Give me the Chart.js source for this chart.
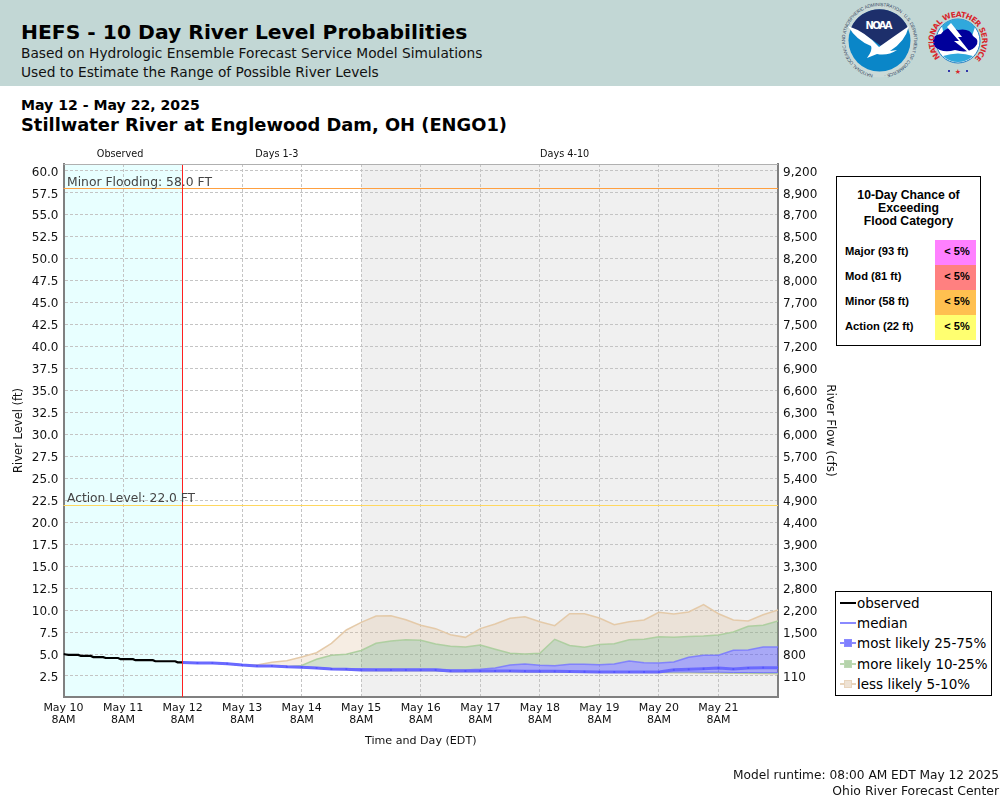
<!DOCTYPE html>
<html><head><meta charset="utf-8">
<style>
html,body{margin:0;padding:0;background:#fff}
#page{position:relative;width:1000px;height:800px;overflow:hidden;font-family:"DejaVu Sans",sans-serif;color:#000}
#band{position:absolute;left:0;top:0;width:1000px;height:86px;background:#c2d7d5}
.t{position:absolute;white-space:nowrap;line-height:1}
canvas{position:absolute;left:0;top:0}
#flood{position:absolute;left:836px;top:176px;width:143px;height:168px;border:1.5px solid #000;background:#fff;font-family:"Liberation Sans",Arial,sans-serif;font-weight:bold}
#flood .head{position:absolute;left:0;right:0;top:12px;text-align:center;font-size:12.2px;line-height:13px}
#flood .lab{position:absolute;left:8px;font-size:11.2px;line-height:23px}
#flood .cell{position:absolute;left:98px;width:41px;text-align:center;font-size:11px;line-height:23px;height:25.2px;text-indent:3px}
#legend{position:absolute;left:835px;top:591px;width:155px;height:103px;border:1.5px solid #000;background:#fff;font-size:13.5px}
#legend .row{position:absolute;left:3px;height:20px;line-height:20px;white-space:nowrap}
#legend svg{position:absolute;left:0;top:0}
#legend span{position:absolute;left:18px;top:0}
</style></head><body>
<div id="page">
<div id="band"></div>
<div class="t" style="left:21px;top:22px;font-size:20.3px;font-weight:bold">HEFS - 10 Day River Level Probabilities</div>
<div class="t" style="left:21px;top:47px;font-size:13.76px;color:#111">Based on Hydrologic Ensemble Forecast Service Model Simulations</div>
<div class="t" style="left:21px;top:66px;font-size:13.76px;color:#111">Used to Estimate the Range of Possible River Levels</div>
<div class="t" style="left:21px;top:98px;font-size:14.1px;font-weight:bold">May 12 - May 22, 2025</div>
<div class="t" style="left:21px;top:116px;font-size:17.87px;font-weight:bold">Stillwater River at Englewood Dam, OH (ENGO1)</div>

<svg style="position:absolute;left:835px;top:0" width="165" height="86" viewBox="835 0 165 86">
  <defs>
    <path id="noaaRing" d="M879.5 75 A34.5 34.5 0 1 1 879.6 75"/>
    <path id="nwsRing" d="M941 58 A24 24 0 1 1 975 58"/>
  </defs>
  <circle cx="879.5" cy="40.5" r="37" fill="#d4dedc" opacity=".5"/>
  <text font-size="4.6" fill="#33475f" font-family="Liberation Sans"><textPath href="#noaaRing" startOffset="3%" textLength="205">NATIONAL OCEANIC AND ATMOSPHERIC ADMINISTRATION · U.S. DEPARTMENT OF COMMERCE ·</textPath></text>
  <circle cx="879.5" cy="40.5" r="31" fill="#0a86c8"/>
  <path d="M851 28 A31 31 0 0 1 908 28 L906 30 Q890 40 881 46 Q868 36 851 28Z" fill="#1d2f6b"/>
  <path d="M848 26 Q866 32 879 47 Q893 37 909 26 Q905 42 890 51 L897 50 Q888 56 877 54 L867 58 Q873 50 871 46 Q856 40 848 26Z" fill="#fff"/>
  <text x="879" y="29" font-size="10" font-weight="bold" fill="#fff" text-anchor="middle" font-family="DejaVu Sans" textLength="27">NOAA</text>
  <circle cx="958" cy="41" r="22" fill="#fff" stroke="#1f7fc4" stroke-width="1"/>
  <path d="M942 26 A22 22 0 0 1 975 27 L972 36 L944 36Z" fill="#30a8dc"/>
  <path d="M934 46 Q930 35 941 34 Q947 25 958 30 Q970 28 973 36 Q981 41 975 47 Q968 54 955 50 Q942 54 934 46Z" fill="#00009b"/>
  <path d="M951 23 L962 37 L958 37 L973 56 L954 41 L959 41 L947 27Z" fill="#fff"/>
  <path d="M943 56 A22 22 0 0 0 973 56 Q958 51 943 56Z" fill="#30a8dc"/>
  <text font-size="7.6" font-weight="bold" fill="#d8262c" font-family="DejaVu Sans"><textPath href="#nwsRing" startOffset="1%" textLength="112">NATIONAL WEATHER SERVICE</textPath></text>
  <text x="958" y="73.5" font-size="7" fill="#d8262c" text-anchor="middle">★</text>
  <circle cx="949" cy="71" r="1" fill="#00009b"/><circle cx="967" cy="71" r="1" fill="#00009b"/>
</svg>

<canvas id="c" width="1000" height="800"></canvas>

<div id="flood">
  <div class="head">10-Day Chance of<br>Exceeding<br>Flood Category</div>
  <div id="floodRows"></div>
</div>

<div id="legend"></div>

<div class="t" style="right:1px;top:769px;font-size:12.2px;color:#111">Model runtime: 08:00 AM EDT May 12 2025</div>
<div class="t" style="right:1px;top:785px;font-size:12.4px;color:#111">Ohio River Forecast Center</div>
</div>

<script src="https://cdn.jsdelivr.net/npm/chart.js@4/dist/chart.umd.js"></script>
<script>
const stageTicks=[2.5,5,7.5,10,12.5,15,17.5,20,22.5,25,27.5,30,32.5,35,37.5,40,42.5,45,47.5,50,52.5,55,57.5,60];
const flowTicks=["110","800","1,500","2,200","2,800","3,300","3,900","4,400","4,900","5,400","5,700","6,000","6,300","6,600","6,900","7,200","7,500","7,700","8,000","8,200","8,500","8,700","8,900","9,200"];
const dayHours=[0,24,48,72,96,120,144,168,192,216,240,264];
const dayLabels=["May 10","May 11","May 12","May 13","May 14","May 15","May 16","May 17","May 18","May 19","May 20","May 21"];

const obsHours=[0,1,2,6,7,11,12,16,17,22,23,28,29,36,37,45,46,48];
const obsStage=[5.0,4.95,4.9,4.9,4.78,4.78,4.65,4.65,4.55,4.55,4.42,4.42,4.3,4.3,4.18,4.18,4.06,4.05];

const fcHours=[48,54,60,66,72,78,84,90,96,102,108,114,120,126,132,138,144,150,156,162,168,174,180,186,192,198,204,210,216,222,228,234,240,246,252,258,264,270,276,282,288];
const median=[4.05,3.98,3.97,3.9,3.75,3.65,3.65,3.55,3.5,3.42,3.3,3.28,3.18,3.18,3.18,3.18,3.18,3.18,3.07,3.07,3.07,3.07,3.07,3.05,3.03,3.03,3.0,2.98,2.96,2.96,2.96,2.96,2.96,3.2,3.26,3.33,3.41,3.3,3.42,3.45,3.45];
const p75=[4.05,3.98,3.97,3.9,3.75,3.65,3.65,3.55,3.52,3.45,3.33,3.3,3.33,3.3,3.3,3.3,3.3,3.3,3.18,3.18,3.26,3.41,3.75,3.87,3.72,3.67,3.83,3.83,3.79,3.87,4.21,4.01,3.98,4.09,4.63,4.86,4.86,5.43,5.46,5.8,5.8];
const p25=[4.05,3.98,3.97,3.9,3.75,3.65,3.65,3.55,3.48,3.4,3.27,3.25,3.14,3.13,3.13,3.13,3.13,3.12,3.03,3.03,3.03,3.03,3.03,3.0,2.98,2.98,2.96,2.94,2.92,2.92,2.92,2.92,2.92,2.95,2.95,2.93,2.93,2.9,2.9,2.88,2.88];
const p90=[4.05,3.98,3.97,3.9,3.75,3.65,3.65,3.55,3.7,4.4,4.86,4.97,5.4,6.22,6.48,6.63,6.56,6.14,5.88,5.8,6.03,5.54,5.08,5.0,5.08,6.68,5.97,5.77,6.1,6.18,6.63,6.68,6.97,6.9,7.0,7.05,7.17,7.51,8.16,8.27,8.76];
const p10=[4.05,3.98,3.97,3.9,3.75,3.65,3.65,3.55,3.47,3.38,3.25,3.23,3.12,3.1,3.1,3.1,3.1,3.09,3.0,3.0,3.0,3.0,3.0,2.98,2.96,2.95,2.93,2.92,2.9,2.9,2.9,2.9,2.88,2.87,2.87,2.85,2.84,2.82,2.8,2.78,2.77];
const p95=[4.05,3.98,3.97,3.9,3.75,3.75,4.06,4.24,4.66,5.15,6.22,7.74,8.61,9.33,9.37,8.91,8.27,7.89,7.2,6.9,7.89,8.42,9.07,9.25,8.68,8.23,9.6,9.59,9.1,8.34,8.68,8.88,9.75,9.56,9.79,10.62,9.59,8.88,8.76,9.48,10.01];
const p5=[4.05,3.98,3.97,3.9,3.75,3.65,3.65,3.55,3.46,3.37,3.24,3.22,3.1,3.08,3.08,3.08,3.08,3.07,2.97,2.97,2.97,2.97,2.97,2.95,2.94,2.93,2.91,2.9,2.88,2.88,2.88,2.88,2.86,2.85,2.85,2.83,2.81,2.79,2.76,2.74,2.72];

const floodRows=[["Major (93 ft)","< 5%","#ff80ff"],["Mod (81 ft)","< 5%","#ff8080"],["Minor (58 ft)","< 5%","#ffc050"],["Action (22 ft)","< 5%","#ffff70"]];
const legendRows=[["observed","#000000",null],["median","#8a8aff",null],["most likely 25-75%","#8a8aff","#7f7fff"],["more likely 10-25%","#bcd8b2","#b5d3ab"],["less likely 5-10%","#e8d4bc","#eee2d4"]];

const BLUE_FILL="rgba(70,70,255,0.42)",GREEN_FILL="rgba(130,170,120,0.36)",TAN_FILL="rgba(222,190,150,0.27)";
const BLUE_LINE="rgba(120,120,255,0.85)",GREEN_LINE="rgba(170,205,155,0.9)",TAN_LINE="rgba(228,200,165,0.95)";

function pts(ys){return ys.map((y,i)=>({x:fcHours[i],y}));}
function band(label,ys,target,fillCol,lineCol,w){return {label,data:pts(ys),fill:target===null?false:{target},backgroundColor:fillCol,borderColor:lineCol,borderWidth:w,pointRadius:0,tension:0};}

const datasets=[
 {label:"observed",data:obsHours.map((x,i)=>({x,y:obsStage[i]})),borderColor:"#000",borderWidth:2.2,pointRadius:0,tension:0,fill:false},
 {label:"median",data:pts(median),borderColor:"#6a6aff",borderWidth:3,pointRadius:1.3,pointStyle:"rect",pointBackgroundColor:"#5555ff",pointBorderWidth:0,tension:0,fill:false},
 band("most likely 25-75%",p75,3,BLUE_FILL,BLUE_LINE,1.5),
 band("p25",p25,null,"transparent",BLUE_LINE,1),
 band("more likely 10-25%",p90,2,GREEN_FILL,GREEN_LINE,1.5),
 band("p10",p10,3,GREEN_FILL,GREEN_LINE,1),
 band("less likely 5-10%",p95,4,TAN_FILL,TAN_LINE,1.5),
 band("p5",p5,5,TAN_FILL,TAN_LINE,1)
];

const regions=[{from:0,to:48,color:"#e8ffff"},{from:120,to:288,color:"#f0f0f0"}];
const headers=[{at:22.8,text:"Observed"},{at:86,text:"Days 1-3"},{at:202,text:"Days 4-10"}];
const levels=[{value:58,text:"Minor Flooding: 58.0 FT",color:"#ffa040",size:12.35},{value:22,text:"Action Level: 22.0 FT",color:"#ffd860",size:12.25}];
const nowHour=48;

const decor={id:"decor",
 beforeDraw(ch){const {ctx,chartArea:a,scales:{x}}=ch;ctx.save();
  regions.forEach(r=>{ctx.fillStyle=r.color;const l=x.getPixelForValue(r.from),R=x.getPixelForValue(r.to);ctx.fillRect(l,a.top,R-l,a.bottom-a.top);});ctx.restore();},
 afterDraw(ch){const {ctx,chartArea:a,scales:{x,y}}=ch;ctx.save();ctx.setLineDash([]);
  levels.forEach(v=>{const py=Math.floor(y.getPixelForValue(v.value)+.3)+.5;ctx.strokeStyle=v.color;ctx.lineWidth=1.2;ctx.beginPath();ctx.moveTo(a.left,py);ctx.lineTo(a.right,py);ctx.stroke();});
  const rx=Math.round(x.getPixelForValue(nowHour))-.5;ctx.strokeStyle="#ff2020";ctx.lineWidth=1;ctx.beginPath();ctx.moveTo(rx,a.top);ctx.lineTo(rx,a.bottom);ctx.stroke();
  ctx.fillStyle="#444";ctx.textBaseline="alphabetic";ctx.textAlign="left";
  levels.forEach(v=>{ctx.font=v.size+'px "DejaVu Sans"';ctx.fillText(v.text,a.left+3.5,y.getPixelForValue(v.value)-3);});
  ctx.font='9.7px "DejaVu Sans"';ctx.fillStyle="#111";ctx.textAlign="center";
  headers.forEach(h=>ctx.fillText(h.text,x.getPixelForValue(h.at),a.top-7));
  ctx.strokeStyle="#b0b0b0";ctx.lineWidth=1;ctx.beginPath();ctx.moveTo(a.left,a.top+.5);ctx.lineTo(a.right,a.top+.5);ctx.stroke();
  ctx.restore();}
};

const tickFont={family:"DejaVu Sans",size:12};
const gridStyle={color:"#c4c4c4",lineWidth:1,drawTicks:false};
new Chart(document.getElementById("c"),{type:"line",data:{datasets},plugins:[decor],options:{
 responsive:false,animation:false,parsing:true,
 layout:{padding:{left:0,right:163,top:164,bottom:52}},
 plugins:{legend:{display:false},tooltip:{enabled:false}},
 elements:{line:{borderCapStyle:"butt"}},
 scales:{
  x:{type:"linear",min:0,max:288,
     afterBuildTicks(s){s.ticks=dayHours.map(value=>({value}));},
     afterFit(s){s.height=51;},
     ticks:{autoSkip:false,maxRotation:0,padding:5,color:"#111",font:{family:"DejaVu Sans",size:11,lineHeight:1.1},callback:(v)=>{const i=dayHours.indexOf(v);return i<0?"":[dayLabels[i],"8AM"];}},
     grid:gridStyle,border:{color:"#808080",width:2,dash:[3,2]},
     title:{display:true,text:"Time and Day (EDT)",color:"#111",font:{family:"DejaVu Sans",size:11.1},padding:{top:0,bottom:0}}},
  y:{type:"linear",position:"left",min:0.109,max:60.79,
     afterBuildTicks(s){s.ticks=stageTicks.map(value=>({value}));},
     afterFit(s){s.width=63.5;},
     ticks:{autoSkip:false,padding:5,labelOffset:1.5,color:"#111",font:tickFont,callback:v=>v.toFixed(1)},
     grid:gridStyle,border:{color:"#808080",width:2,dash:[3,2]},
     title:{display:true,text:"River Level (ft)",color:"#111",font:{family:"DejaVu Sans",size:11.5},padding:{top:12,bottom:0}}},
  y2:{type:"linear",position:"right",min:0.109,max:60.79,
     afterBuildTicks(s){s.ticks=stageTicks.map(value=>({value}));},
     afterFit(s){s.width=59;},
     ticks:{autoSkip:false,padding:5,labelOffset:1.5,color:"#111",font:tickFont,callback:v=>flowTicks[stageTicks.indexOf(v)]},
     grid:{display:false,drawTicks:false},border:{color:"#808080",width:2},
     title:{display:true,text:"River Flow (cfs)",color:"#111",font:{family:"DejaVu Sans",size:12},padding:{top:0,bottom:0}}}
 }}});

const fr=document.getElementById("floodRows");
floodRows.forEach((r,i)=>{const top=63+i*25.1;
 fr.insertAdjacentHTML("beforeend",`<div class="lab" style="top:${top}px">${r[0]}</div><div class="cell" style="top:${top}px;background:${r[2]}">${r[1].replace("<","&lt;")}</div>`);});
const lg=document.getElementById("legend");
legendRows.forEach((r,i)=>{const mark=r[2]?`<rect x="5.5" y="6.5" width="7" height="7" fill="${r[2]}" stroke="${r[1]}"/>`:"";
 lg.insertAdjacentHTML("beforeend",`<div class="row" style="top:${1+i*20.2}px"><svg width="18" height="20"><line x1="1" x2="17" y1="10" y2="10" stroke="${r[1]}" stroke-width="2"/>${mark}</svg><span>${r[0]}</span></div>`);});
</script>
</body></html>
